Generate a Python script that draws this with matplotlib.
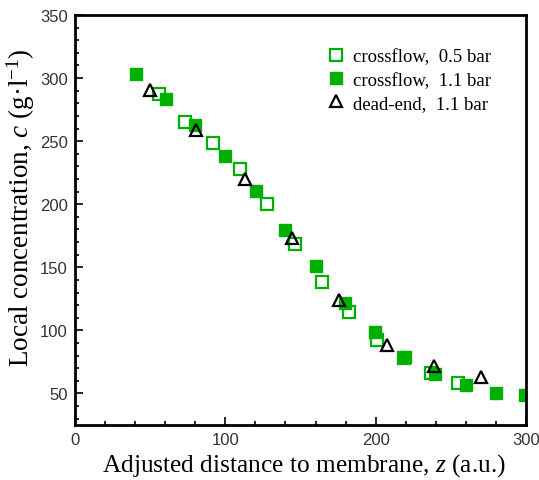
import numpy as np
import matplotlib
matplotlib.use('Agg')
import matplotlib.pyplot as plt
from matplotlib.ticker import MultipleLocator

plt.rcParams['mathtext.fontset'] = 'custom'
plt.rcParams['mathtext.it'] = 'Liberation Serif:italic'
plt.rcParams['mathtext.rm'] = 'Liberation Serif'

# crossflow, 0.5 bar (open squares)
z_cf05 = [55.7, 73.5, 91.8, 109.7, 127.9, 146.2, 164.3, 182.5, 200.6, 219.0, 236.7, 255.0]
c_cf05 = [287.0, 265.2, 248.7, 228.0, 200.0, 168.2, 138.4, 114.5, 92.5, 78.0, 66.5, 58.5]

# crossflow, 1.1 bar (filled squares)
z_cf11 = [40.5, 60.4, 79.6, 100.0, 120.5, 140.0, 160.0, 179.8, 199.7, 219.5, 239.5, 260.3, 279.8, 299.3]
c_cf11 = [303.0, 283.3, 262.5, 238.6, 210.7, 179.6, 150.9, 121.7, 99.0, 79.0, 65.5, 57.0, 50.0, 49.0]

# dead-end, 1.1 bar (triangles)
z_de11 = [49.8, 80.7, 112.8, 144.2, 175.4, 207.3, 238.9, 270.3]
c_de11 = [290.4, 259.0, 220.0, 173.0, 124.0, 88.5, 71.5, 63.3]

green = '#00b000'
serif = 'Liberation Serif'
sans = 'Liberation Sans'

fig = plt.figure(figsize=(5.39, 4.81), dpi=100)
ax = fig.add_axes([0.139, 0.1143, 0.837, 0.8524])

ax.plot(z_cf05, c_cf05, ls='none', marker='s', ms=8.5, mfc='white', mec=green, mew=1.6,
        label='crossflow,  0.5 bar')
ax.plot(z_cf11, c_cf11, ls='none', marker='s', ms=8.5, mfc=green, mec=green, mew=1.0,
        label='crossflow,  1.1 bar')
ax.plot(z_de11, c_de11, ls='none', marker='^', ms=9, mfc='none', mec='black', mew=1.6,
        label='dead-end,  1.1 bar')

ax.set_xlim(0, 300)
ax.set_ylim(25, 350)
ax.xaxis.set_major_locator(MultipleLocator(100))
ax.xaxis.set_minor_locator(MultipleLocator(20))
ax.yaxis.set_major_locator(MultipleLocator(50))
ax.yaxis.set_minor_locator(MultipleLocator(10))
ax.tick_params(which='both', direction='in', top=False, right=False, width=1.2)
ax.tick_params(which='major', length=6, labelsize=12, pad=5)
ax.tick_params(which='minor', length=3)
for lab in ax.get_xticklabels() + ax.get_yticklabels():
    lab.set_family(sans)
    lab.set_color('#333333')
for s in ax.spines.values():
    s.set_linewidth(2)

ax.set_xlabel('Adjusted distance to membrane, $z$ (a.u.)', family=serif, fontsize=18.3)
ax.xaxis.set_label_coords(0.507, -0.064)
ax.set_ylabel('Local concentration, $c$ (g\u00b7l$^{\u22121}$)', family=serif, fontsize=19.5)
ax.yaxis.set_label_coords(-0.085, 0.532)

ax.legend(loc='upper right', bbox_to_anchor=(0.96, 0.96), frameon=False,
          prop={'family': serif, 'size': 13.5}, handletextpad=0.3, labelspacing=0.33,
          handlelength=1.2)

fig.savefig('out.png', dpi=100)
